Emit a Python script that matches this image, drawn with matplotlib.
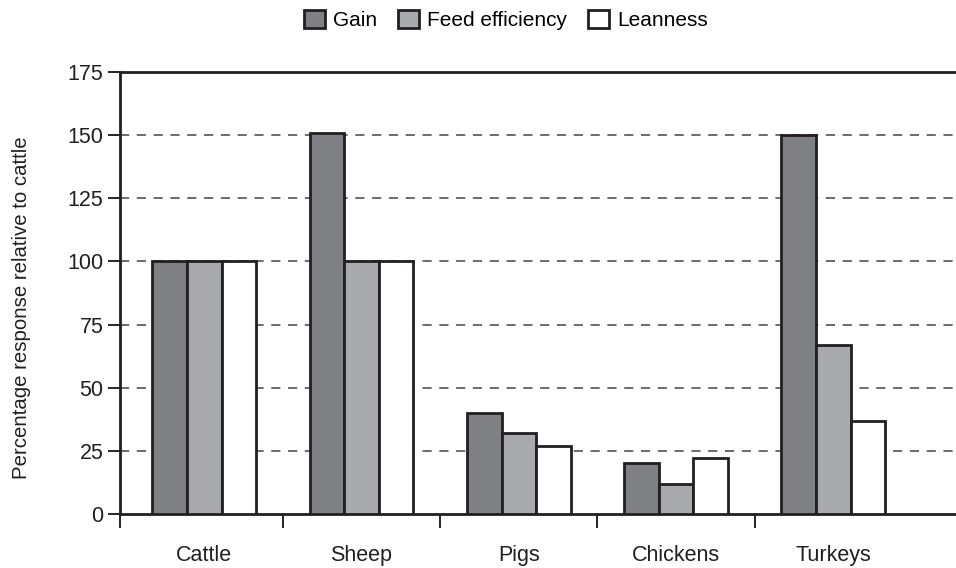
"""
Grouped bar chart: response to selection relative to cattle
"""

import matplotlib
matplotlib.use('Agg')
import matplotlib.pyplot as plt
import numpy as np

# Data
species = ['Cattle', 'Sheep', 'Pigs', 'Chickens', 'Turkeys']
gain = [100, 151, 40, 20, 150]
feed_efficiency = [100, 100, 32, 12, 67]
leanness = [100, 100, 27, 22, 37]
series_names = ['Gain', 'Feed efficiency', 'Leanness']
yticks = [0, 25, 50, 75, 100, 125, 150, 175]

plt.rcParams['font.family'] = ['Liberation Sans', 'DejaVu Sans']

fig = plt.figure(figsize=(9.56, 5.68), dpi=100)
ax = fig.add_axes([0.1255, 0.0951, 0.8745, 0.7781])

x = np.arange(len(species))
width = 0.22
colors = ['#7f8084', '#a9aaad', '#ffffff']
for k, vals in enumerate([gain, feed_efficiency, leanness]):
    ax.bar(x + (k - 1) * width, vals, width, color=colors[k],
           edgecolor='#231f20', linewidth=2, label=series_names[k], zorder=3)

# Axes limits and spines
xmin = -0.536
ax.set_xlim(xmin, 4.78)
ax.set_ylim(0, 175)
ax.spines['right'].set_visible(False)
for s in ['left', 'top', 'bottom']:
    ax.spines[s].set_linewidth(2)
    ax.spines[s].set_color('#231f20')

# Dashed grid
for yv in yticks[1:-1]:
    ax.axhline(yv, color='#444444', linestyle=(0, (6, 5)), linewidth=1.1, zorder=1)

# y ticks
ax.set_yticks(yticks)
ax.tick_params(axis='y', length=9, width=1.2, labelsize=15.5, pad=3,
               labelcolor='#231f20')

# x: labels at centres, ticks at boundaries
ax.set_xticks(x)
ax.set_xticklabels(species, fontsize=15.5, color='#231f20')
ax.tick_params(axis='x', which='major', length=0, pad=22)
ax.set_xticks([xmin] + list(x[:-1] + 0.5), minor=True)
ax.tick_params(axis='x', which='minor', length=10, width=1.2, direction='out')

# y label sits a little below the axes centre in the original
fig.text(0.023, 0.458, 'Percentage response relative to cattle', fontsize=14.7,
         rotation=90, ha='center', va='center', color='#231f20')

leg = fig.legend(loc='center', bbox_to_anchor=(0.529, 0.965), ncol=3,
                 frameon=False, fontsize=15, handlelength=1.0, handleheight=1.0,
                 handletextpad=0.4, columnspacing=1.0)

plt.savefig('out.png', dpi=100)
plt.close(fig)
